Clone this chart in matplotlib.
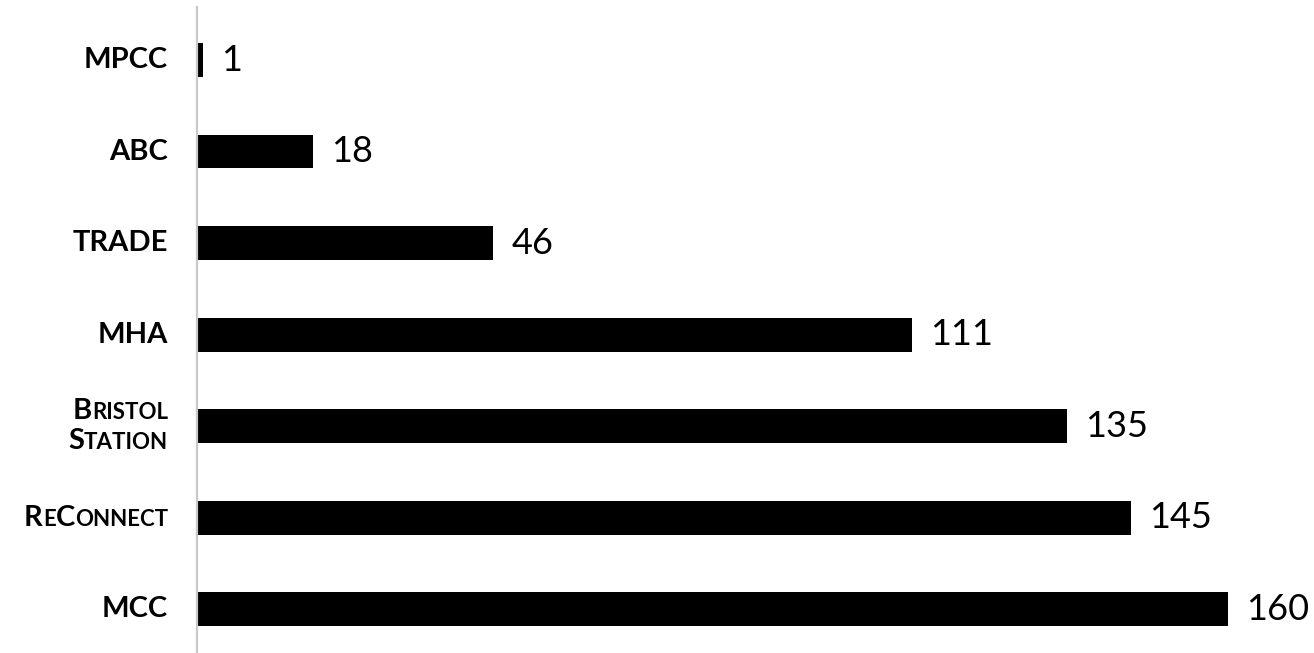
import matplotlib
matplotlib.use("Agg")
import matplotlib.pyplot as plt
from matplotlib.offsetbox import TextArea, HPacker, VPacker, AnnotationBbox

categories = ["MPCC", "ABC", "TRADE", "MHA", "Bristol Station", "ReConnect", "MCC"]
values = [1, 18, 46, 111, 135, 145, 160]

# small-caps pieces for each label: (text, is_big_cap) per line
label_parts = {
    "MPCC": [[("MPCC", True)]],
    "ABC": [[("ABC", True)]],
    "TRADE": [[("TRADE", True)]],
    "MHA": [[("MHA", True)]],
    "Bristol Station": [[("B", True), ("RISTOL", False)],
                        [("S", True), ("TATION", False)]],
    "ReConnect": [[("R", True), ("E", False), ("C", True), ("ONNECT", False)]],
    "MCC": [[("MCC", True)]],
}

plt.rcParams['font.family'] = ['Lato', 'DejaVu Sans']

fig = plt.figure(figsize=(13.14, 6.53), dpi=100)
ax = fig.add_axes([197 / 1314, 0, (1300 - 197) / 1314, 1 - 7 / 653])

pos = list(range(len(categories)))
ax.barh(pos, values, height=0.37, color="black")
ax.set_ylim(6.48, -0.58)
ax.set_xlim(0, 171.2)

for p, v in zip(pos, values):
    ax.text(v + 2.8, p, str(v), va="center", ha="left", fontsize=26,
            color="black")

big, small = 21, 16
for p, cat in zip(pos, categories):
    lines = []
    for line in label_parts[cat]:
        areas = [TextArea(t, textprops=dict(fontsize=big if b else small,
                                            fontweight="bold", color="black"))
                 for t, b in line]
        lines.append(HPacker(children=areas, align="baseline", pad=0, sep=0))
    box = lines[0] if len(lines) == 1 else VPacker(children=lines, align="right", pad=0, sep=3)
    ab = AnnotationBbox(box, (-29 / 1103, p), xycoords=ax.get_yaxis_transform(),
                        box_alignment=(1, 0.5), frameon=False, pad=0,
                        annotation_clip=False)
    ax.add_artist(ab)

for s in ["top", "right", "bottom"]:
    ax.spines[s].set_visible(False)
ax.spines["left"].set_color("#c8c8c8")
ax.spines["left"].set_linewidth(1.6)
ax.set_xticks([])
ax.set_yticks([])

fig.savefig("out.png", dpi=100)
